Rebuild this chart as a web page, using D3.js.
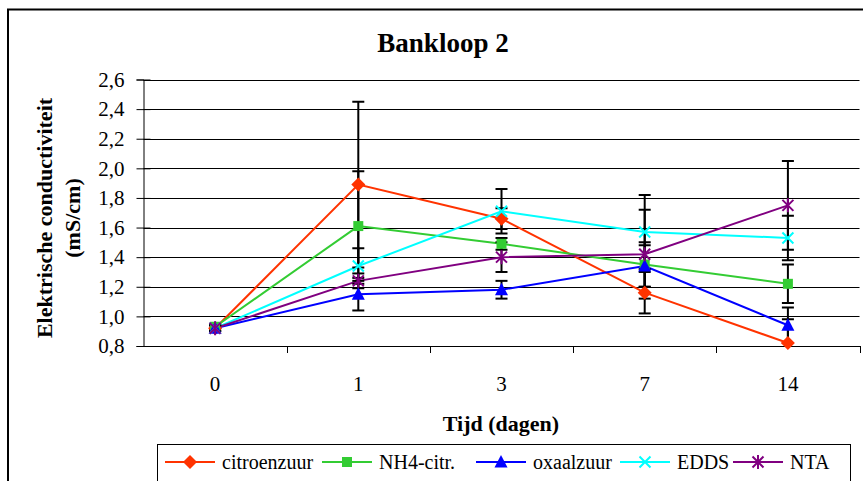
<!DOCTYPE html>
<html>
<head>
<meta charset="utf-8">
<script src="https://cdn.jsdelivr.net/npm/d3@7"></script>
<style>
  html, body { margin: 0; padding: 0; background: #fff; }
  svg { display: block; }
  svg text { font-family: "Liberation Serif", Tinos, "Times New Roman", Times, "DejaVu Serif", "Noto Serif", serif !important; fill: #000; }
</style>
</head>
<body>
<svg id="chart" width="863" height="481"></svg>
<script>
// Sampling days and measured conductivity per complexing agent
const categories = ["0", "1", "3", "7", "14"];
const citroenzuur = [0.92, 1.89, 1.66, 1.16, 0.82];
const citroenzuurErr = [0.02, 0.56, 0.07, 0.14, 0.16];
const nh4citr = [0.93, 1.61, 1.49, 1.35, 1.22];
const nh4citrErr = [0.02, 0.37, 0.04, 0.15, 0.13];
const oxaalzuur = [0.92, 1.15, 1.18, 1.34, 0.94];
const oxaalzuurErr = [0.02, 0.11, 0.06, 0.14, 0.12];
const edds = [0.92, 1.34, 1.71, 1.57, 1.53];
const eddsErr = [0.02, 0.12, 0.15, 0.25, 0.15];
const nta = [0.92, 1.24, 1.40, 1.42, 1.75];
const ntaErr = [0.02, 0.05, 0.10, 0.30, 0.30];
const seriesNames = ["citroenzuur", "NH4-citr.", "oxaalzuur", "EDDS", "NTA"];
const yTicks = [0.8, 1.0, 1.2, 1.4, 1.6, 1.8, 2.0, 2.2, 2.4, 2.6];

const series = [
  { name: seriesNames[0], values: citroenzuur, err: citroenzuurErr, color: "#FF3300", marker: "diamond" },
  { name: seriesNames[1], values: nh4citr, err: nh4citrErr, color: "#33CC33", marker: "square" },
  { name: seriesNames[2], values: oxaalzuur, err: oxaalzuurErr, color: "#0000FF", marker: "triangle" },
  { name: seriesNames[3], values: edds, err: eddsErr, color: "#00FFFF", marker: "x" },
  { name: seriesNames[4], values: nta, err: ntaErr, color: "#800080", marker: "star" }
];

const SERIF = '"Liberation Serif", Tinos, "Times New Roman", Times, "DejaVu Serif", serif';
const svg = d3.select("#chart");
const plot = { left: 143.5, right: 859.5, top: 79.5, bottom: 346 };

const x = d3.scaleBand().domain(categories).range([plot.left, plot.right]);
const y = d3.scaleLinear().domain([0.8, 2.6]).range([plot.bottom, plot.top]);
const cx = c => x(c) + x.bandwidth() / 2;
const fmt = v => d3.format(".1f")(v).replace(".", ",");

// Outer chart frame
svg.append("rect")
  .attr("x", 8).attr("y", 9.5).attr("width", 900).attr("height", 520)
  .attr("fill", "#fff").attr("stroke", "#000").attr("stroke-width", 2);

// Title
svg.append("text")
  .attr("x", 443).attr("y", 52)
  .attr("text-anchor", "middle").attr("font-family", SERIF)
  .attr("font-size", 27).attr("font-weight", "bold")
  .text("Bankloop 2");

// Horizontal gridlines
svg.append("g").selectAll("line").data(yTicks.slice(1)).join("line")
  .attr("x1", plot.left).attr("x2", plot.right)
  .attr("y1", d => Math.round(y(d)) + 0.5).attr("y2", d => Math.round(y(d)) + 0.5)
  .attr("stroke", "#000").attr("stroke-width", 1);

// Y axis
const yAxis = d3.axisLeft(y).tickValues(yTicks).tickFormat(fmt).tickSize(7).tickPadding(12);
const gy = svg.append("g").attr("transform", `translate(${plot.left},0)`).call(yAxis)
  .attr("font-family", SERIF);
gy.select(".domain").attr("stroke", "#000").attr("stroke-width", 1);
gy.selectAll(".tick line").attr("x2", -7).attr("x1", 7).attr("stroke", "#000");
gy.selectAll(".tick text").attr("font-size", 21);

// X axis with tick marks on category boundaries
const gx = svg.append("g").attr("transform", `translate(0,${plot.bottom})`)
  .call(d3.axisBottom(x).tickSize(0).tickPadding(29))
  .attr("font-family", SERIF);
gx.select(".domain").attr("stroke", "#000").attr("stroke-width", 1);
gx.selectAll(".tick text").attr("font-size", 21).attr("dy", "0.75em");
gx.append("g").selectAll("line").data(categories.slice(1).concat(["end"])).join("line")
  .attr("x1", (d, i) => Math.round(plot.left + x.step() * (i + 1)) + 0.5)
  .attr("x2", (d, i) => Math.round(plot.left + x.step() * (i + 1)) + 0.5)
  .attr("y1", 0).attr("y2", 7).attr("stroke", "#000");

// Axis titles
svg.append("text")
  .attr("x", 501).attr("y", 431)
  .attr("text-anchor", "middle").attr("font-family", SERIF)
  .attr("font-size", 22).attr("font-weight", "bold")
  .text("Tijd (dagen)");

const yTitle = svg.append("text")
  .attr("transform", "translate(52,218) rotate(-90)")
  .attr("text-anchor", "middle").attr("font-family", SERIF)
  .attr("font-size", 22).attr("font-weight", "bold");
yTitle.append("tspan").attr("x", 0).attr("dy", 0).text("Elektrische conductiviteit");
yTitle.append("tspan").attr("x", 0).attr("dy", 28).text("(mS/cm)");

// Marker shapes
function markerPath(type) {
  switch (type) {
    case "diamond": return "M0,-7L7,0L0,7L-7,0Z";
    case "square": return "M-5,-5H5V5H-5Z";
    case "triangle": return "M0,-7L6.5,5.5H-6.5Z";
    case "x": return "M-5.5,-5.5L5.5,5.5M-5.5,5.5L5.5,-5.5";
    case "star": return "M-5.5,-5.5L5.5,5.5M-5.5,5.5L5.5,-5.5M0,-7V7";
  }
}

svg.append("clipPath").attr("id", "plotclip").append("rect")
  .attr("x", plot.left).attr("y", plot.top - 5)
  .attr("width", plot.right - plot.left).attr("height", plot.bottom - plot.top + 5);

const line = d3.line().x((d, i) => cx(categories[i])).y(d => y(d));

// Series lines
svg.append("g").selectAll("path").data(series).join("path")
  .attr("d", s => line(s.values))
  .attr("fill", "none").attr("stroke", s => s.color).attr("stroke-width", 2);

// Error bars
const eb = svg.append("g").attr("clip-path", "url(#plotclip)");
series.forEach(s => {
  s.values.forEach((v, i) => {
    const px = cx(categories[i]);
    const lo = y(v - s.err[i]), hi = y(v + s.err[i]);
    eb.append("line").attr("x1", px).attr("x2", px).attr("y1", lo).attr("y2", hi)
      .attr("stroke", "#000").attr("stroke-width", 2);
    [lo, hi].forEach(py => eb.append("line")
      .attr("x1", px - 6).attr("x2", px + 6).attr("y1", py).attr("y2", py)
      .attr("stroke", "#000").attr("stroke-width", 2));
  });
});

// Markers
series.forEach(s => {
  const open = s.marker === "x" || s.marker === "star";
  svg.append("g").selectAll("path").data(s.values).join("path")
    .attr("transform", (d, i) => `translate(${cx(categories[i])},${y(d)})`)
    .attr("d", markerPath(s.marker))
    .attr("fill", open ? "none" : s.color)
    .attr("stroke", s.color).attr("stroke-width", open ? 2 : 0);
});

// Legend
const legend = svg.append("g");
legend.append("rect").attr("x", 157.5).attr("y", 444.5).attr("width", 693).attr("height", 60)
  .attr("fill", "#fff").attr("stroke", "#000").attr("stroke-width", 1);
const legendX = [165, 322, 476, 620, 733];
series.forEach((s, i) => {
  const g = legend.append("g").attr("transform", `translate(${legendX[i]},462)`);
  g.append("line").attr("x1", 0).attr("x2", 50).attr("y1", 0).attr("y2", 0)
    .attr("stroke", s.color).attr("stroke-width", 2);
  const open = s.marker === "x" || s.marker === "star";
  g.append("path").attr("transform", "translate(25,0)").attr("d", markerPath(s.marker))
    .attr("fill", open ? "none" : s.color).attr("stroke", s.color).attr("stroke-width", open ? 2 : 0);
  g.append("text").attr("x", 57).attr("y", 7).attr("font-family", SERIF).attr("font-size", 20).text(s.name);
});
</script>
</body>
</html>
